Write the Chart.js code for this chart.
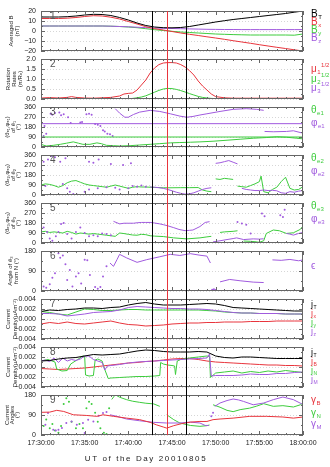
<!DOCTYPE html>
<html>
<head>
<meta charset="utf-8">
<script src="https://cdn.jsdelivr.net/npm/chart.js@4.4.1/dist/chart.umd.min.js"></script>
<style>
  html, body { margin: 0; padding: 0; background: #fff; }
  #wrap { position: relative; width: 330px; height: 467px; }
  #wrap canvas { position: absolute; left: 0; top: 0; }
</style>
</head>
<body>
<div id="wrap"></div>
<script>
// minutes after 17:30:00 UT
const tMin = [0,1,2,3,4,5,6,7,8,9,10,11,12,13,14,15,16,17,18,19,20,21,22,23,24,25,26,27,28,29,30];
const xTickLabels = ['17:30:00', '17:35:00', '17:40:00', '17:45:00', '17:50:00', '17:55:00', '18:00:00'];
const markerTimes = [12.68, 14.39, 16.6];

// panel 1 - averaged B (nT)
const bT = [14,14,14,14.3,15,16,16.7,16.5,15.5,13.5,11,8,5.5,4,3.3,3.2,3.5,4.5,6,7.5,9,10.3,11.5,12.5,13.5,14.5,15.5,16.5,17.5,18.8,20];
const bx = [12.5,12.5,12.5,12.8,13.5,14.5,15.3,15,13.8,12,9.5,7,4.3,2.3,1,-0.5,-2,-3.3,-4.5,-5.8,-7,-8.3,-9.7,-11,-12.3,-13.7,-15,-16.3,-17.5,-18.8,-20];
const by = [5,5,5,5,5,5,5,5,4.8,4.5,4,3.3,2.3,1.3,0.5,-0.3,-1,-1.5,-2,-2.5,-3,-3.3,-3.6,-3.8,-4,-4,-4,-4,-4,-4.2,-3];
const bz = [5,5,5,5,5,5,5,5,4.8,4.5,4.2,3.8,3.3,3,2.7,2.5,2.3,2.1,1.9,1.7,1.6,1.5,1.5,1.4,1.4,1.4,1.4,1.4,1.4,1.4,1.4];

// panel 2 - rotation rates
const tMu = [0,1,2,3,3.5,4,5,6,7,8,9,9.5,10,10.5,11,11.5,12,12.5,13,13.5,14,14.5,15,15.5,16,16.5,17,17.5,18,18.5,19,19.5,20,21,22,23,24,25,26,27,28,29,30];
const mu1 = [0.05,0.07,0.05,0.08,0.12,0.08,0.05,0.04,0.06,0.08,0.15,0.25,0.28,0.3,0.45,0.7,0.95,1.3,1.55,1.72,1.8,1.82,1.82,1.8,1.72,1.6,1.42,1.2,0.9,0.65,0.45,0.25,0.12,0.06,0.04,0.04,0.04,0.04,0.04,0.04,0.04,0.04,0.04];
const mu2 = [0.01,0.01,0.01,0.01,0.01,0.01,0.01,0.01,0.01,0.01,0.01,0.01,0.01,0.03,0.06,0.1,0.16,0.25,0.34,0.43,0.5,0.53,0.52,0.48,0.42,0.35,0.27,0.2,0.13,0.08,0.05,0.03,0.02,0.01,0.01,0.01,0.01,0.01,0.01,0.01,0.01,0.01,0.01];
const tMu3 = [0, 30];
const mu3 = [0.01, 0.01];

// panel 3 - e1 direction
const tRef = [0, 30];
const phi1Ref = [210, 210];
const theta1Ref = [90, 90];
const phi1DotT = [0,0.3,0.4,0.6,1.1,1.3,1.6,2.1,2.3,2.6,3.1,3.4,4.5,4.7,5.2,5.5,5.8,6.2,6.5,6.8,7.1,7.3,7.6,7.9,8.2];
const phi1DotV = [130,100,190,120,300,290,305,310,285,295,268,215,220,225,295,300,290,207,200,190,150,140,120,115,100];
const phi1T = [8.5,9,9.6,10,10.6,11.3,12.5,13.6,14.8,15.9,16.7,17.4,18.2,19,20.5,22,23.5,24.7,25.5,25.55,25.6,26.6,28.1,28.9,29.8,30];
const phi1V = [345,305,268,268,293,314,330,320,299,278,268,275,288,299,320,339,345,339,330,null,140,137,140,146,128,130];
const theta1T = [0,0.6,1.4,2.2,2.9,3.7,4.3,4.8,5.6,6.4,6.9,7.5,8.3,9,10.2,11.3,12.5,13.6,14.8,15.9,17.1,18.2,19.7,21.3,22.8,24.3,25.8,27,28.1,29.3,30];
const theta1V = [24,9,15,24,34,46,34,24,24,37,30,15,12,9,12,18,24,30,37,40,43,46,52,61,70,79,85,92,88,79,73];

// panel 4 - e2 direction
const phi2DotT = [0.3,0.8,1.2,1.6,2.2,2.8,5.5,6,6.6,8,9.4,10.3,0,0.5,2.5,3,3.3,3.7,4.1,5,5.5,6.5,7.5,8.5,9,10,10.5,11,11.5,12];
const phi2DotV = [300,320,350,340,300,330,300,290,320,280,270,285,60,80,100,60,30,10,5,30,50,60,70,65,50,60,80,75,85,75];
const phi2T = [12.5,13,13.5,14,14.5,15,15.5,16,16.5,17,17.5,18,18.5,19,19.5,19.6,20,20.5,21,21.5,22,22.5,22.6,23,23.5,24,24.5,25,25.5,26,26.5,27,27.5,28,28.5,29,29.5,30];
const phi2V = [72,70,66,60,50,38,25,15,8,10,20,35,50,60,65,null,285,290,300,310,295,280,null,60,50,45,40,40,45,40,42,38,20,15,30,25,35,40];
const theta2T = [0,0.5,1,1.5,2,2.5,3,3.5,4,4.5,5,5.5,6,6.5,7,7.5,8,8.5,9,9.5,10,10.5,11,11.5,12,12.5,13,14,15,16,17,18,18.5,19,19.5,19.6,20,20.5,21,21.5,22,22.1,22.5,23,23.5,24,24.5,25,25.2,25.5,26,26.5,27,27.5,28,28.5,29,29.5,30];
const theta2V = [90,100,95,85,70,85,110,125,130,115,100,90,85,80,75,70,80,90,80,70,60,70,75,72,72,70,68,65,65,66,66,67,45,35,30,null,145,140,150,145,140,null,80,75,70,85,100,120,170,30,20,50,70,120,160,60,45,50,75];

// panel 5 - e3 direction
const phi3DotT = [0,0.3,0.7,1,1.3,1.7,2,2.3,2.6,3,3.5,4,4.5,5,5.5,6,6.5,7,7.5,8,22.5,23,23.5,24,25.3,25.6,27.4,27.7,27.9];
const phi3DotV = [120,140,100,40,20,60,100,170,180,80,40,100,140,90,60,70,60,85,80,70,190,175,165,85,265,240,250,235,300];
const phi3T = [8.3,9,9.5,10,10.6,11,11.5,12,12.5,13,13.6,14,14.5,15.2,15.8,16.5,17,17.4,18.2,18.8,19.3,19.5,19.7,20.5,21.3,22,22.4,23.2,24.3,25,25.5,25.6,28.1,28.5,28.9,29.5,30];
const phi3V = [195,172,178,178,178,182,185,185,185,180,172,165,155,138,122,111,114,117,148,185,192,null,10,20,31,40,46,31,37,35,38,null,86,80,71,86,95];
const theta3T = [0,0.5,1,1.5,2,2.5,3,3.5,4,4.5,5,5.5,6,6.5,7,7.5,8,8.5,9,9.5,10,10.5,11,11.5,12,12.5,13,14,15.2,16.7,18.2,19,19.5,19.9,20.5,21,22,22.5,22.8,23.2,24,24.5,25,25.5,25.8,26.6,27.3,28.1,28.9,29.7,30];
const theta3V = [100,105,95,100,95,90,105,95,80,90,85,80,85,80,75,70,65,60,90,85,78,72,70,78,75,65,62,58,46,37,46,55,60,null,95,100,105,110,null,18,15,12,6,20,86,117,110,86,92,123,154];

// panel 6 - angle of e3 from N
const epsDotT = [0,0.3,0.6,1,1.3,1.6,2,2.2,2.5,2.8,3,3.3,3.6,4,4.3,4.6,5,5.3,5.6,6.2,6.5,6.8,7.1,7.5,19.6,19.8,20];
const epsDotV = [10,20,15,30,60,80,170,150,160,120,50,95,20,65,80,34,141,138,72,18,10,18,65,111,6,8,5];
const epsT = [7.9,8.3,8.7,9,9.8,11,12.1,13.6,14.8,15.9,17.1,18.2,19,19.4,19.5,20.5,21.6,22.8,24.3,25.5,25.6,26.5,27.5,28.5,29.5,30];
const epsV = [126,111,141,165,149,129,141,154,165,160,168,161,157,126,null,41,52,46,40,38,null,140,138,142,136,140];

// panel 7 - current density, GSE components (uA/m^2)
const jT7 = [0.0015,0.0018,0.0017,0.0019,0.002,0.0022,0.0022,0.0021,0.0023,0.0024,0.0028,0.0031,0.0033,0.003,0.0028,0.0028,0.0028,0.0029,0.003,0.0031,0.003,0.0027,0.0023,0.0022,0.0021,0.002,0.0019,0.0018,0.0017,0.0016,0.0016];
const jx7 = [-0.001,-0.0007,-0.0009,-0.0006,-0.0009,-0.001,-0.0008,-0.0006,-0.0004,-0.0008,-0.0011,-0.0012,-0.0014,-0.0013,-0.0012,-0.001,-0.0009,-0.0008,-0.0008,-0.0007,-0.0007,-0.0006,-0.0006,-0.0006,-0.0005,-0.0005,-0.0005,-0.0004,-0.0004,-0.0004,-0.0004];
const jy7 = [0.0015,0.0013,0.001,0.0008,0.0014,0.002,0.0019,0.0017,0.0017,0.0018,0.0019,0.0019,0.0018,0.0018,0.0018,0.0018,0.0018,0.0018,0.0018,0.0017,0.0016,0.0014,0.0013,0.0012,0.0012,0.0011,0.0011,0.0011,0.001,0.001,0.001];
const jz7 = [0.0011,0.0011,0.001,0.0006,0.0008,0.001,0.0013,0.0014,0.0015,0.0018,0.0023,0.0025,0.0024,0.0023,0.0022,0.0021,0.0021,0.002,0.002,0.0019,0.0017,0.0015,0.0013,0.0012,0.0012,0.0011,0.0011,0.0011,0.001,0.001,0.001];

// panel 8 - current density, local frame
const jT8 = [0.0012,0.0013,0.0016,0.0018,0.0019,0.0022,0.0025,0.0024,0.0025,0.0026,0.0029,0.0032,0.0034,0.0033,0.0031,0.003,0.003,0.003,0.0031,0.003,0.0022,0.0019,0.0018,0.002,0.002,0.0019,0.0018,0.0017,0.0017,0.0017,0.0017];
const jB8 = [-0.0003,-0.0004,-0.0005,-0.0004,-0.0003,-0.0002,0,0.0002,0.0004,0.0006,0.0008,0.0009,0.0011,0.0012,0.0014,0.0016,0.0017,0.0017,0.0015,0.0012,0.001,0.0009,0.0008,0.0007,0.0006,0.0005,0.0004,0.0004,0.0003,0.0003,0.0002];
const tN8 = [0,0.8,1.6,1.8,2.4,3,3.4,4.2,4.8,5,5.1,5.5,6,6.2,6.5,7,7.3,7.7,8,9,10,11,12,13,13.6,13.7,14,14.5,15,15.3,15.4,15.6,16,17,18,19,19.3,19.4,20,21,22,23,24,25,26,27,28,29,30];
const jN8 = [0.0012,0.0015,0.001,-0.0004,-0.0008,-0.0007,0.0006,0.0015,0.0022,0.0022,-0.0016,-0.0018,-0.0017,0.0014,0.0016,0.0012,-0.0005,-0.0023,-0.0022,-0.0021,-0.002,-0.0019,-0.0019,-0.0018,-0.0017,0.0009,0.0006,0.0004,0.0003,0.0002,-0.0015,0.0012,0.0015,0.0018,0.002,0.0022,0.0021,-0.0021,-0.0012,-0.001,-0.0008,-0.0012,-0.0009,-0.0011,-0.0008,-0.001,-0.0007,-0.0009,-0.0011];
const tM8 = [0,0.5,1,1.5,2,2.5,3,3.5,4,4.5,5,5.5,6,6.5,7,7.3,7.6,8,9,10,11,12,13,14,15,16,17,18,19,19.3,19.5,20,21,22,23,24,25,26,27,28,29,30];
const jM8 = [0.0012,0.0014,0.0011,0.0018,0.0009,0.0018,0.0012,0.0015,0.0013,0.0016,0.0022,0.0022,0.0015,0.0012,0.0009,-0.0006,0.0002,0.0003,0.0005,0.0008,0.001,0.0011,0.0012,0.0013,0.0014,0.0015,0.0016,0.0017,0.0018,0.0026,-0.0018,-0.0017,-0.0017,-0.0017,-0.0016,-0.0014,-0.0015,-0.0015,-0.0013,-0.0013,-0.0011,-0.001];

// panel 9 - current angles
const gBT = [0,1,1.8,2.6,3.7,5.2,6.4,7.1,8.3,9.8,11.3,12.5,13.2,14,14.4,15.2,16.1,17.1,18.2,19,19.7,20.5,22,23.9,25.8,27.7,28.9,30];
const gBV = [102,103,111,106,91,88,84,91,84,76,69,57,46,36,31,42,51,58,61,61,69,72,76,84,84,81,76,81];
const gNDotT = [0,0.3,0.6,1,1.3,1.6,2,2.3,2.6,2.9,3.2,3.5,4,4.4,4.8,5.2,5.5,5.8,6.2,6.5,6.8,7.2,7.5,7.8];
const gNDotV = [60,40,70,30,50,20,10,40,140,165,150,60,30,50,30,120,150,140,100,60,30,10,5,120];
const gNT = [8.1,8.5,9,9.8,10.5,11.3,12,12.9,13.6,13.7,14.4,15.2,15.9,17.1,18.2,19,19.3,19.4,19.7,20.5,21.3,22,22.8,23.9,24.7,25.5,26.6,27.7,28.9,29.7,30];
const gNV = [160,181,170,159,152,147,143,140,129,null,91,69,54,43,39,42,45,null,136,125,111,105,114,121,130,141,129,132,126,136,144];
const gMDotT = [0,0.5,0.8,1.4,1.7,2,2.4,2.9,3.5,4.1,4.8,5,5.4,6,6.6,7.1,7.5,19.5,19.7];
const gMDotV = [54,46,99,24,20,24,31,54,61,46,54,9,69,61,87,99,103,84,100];
const gMT = [7.9,8.7,9.8,11.3,12.9,14.4,15.9,17.1,18.2,18.8,19.2,19.3,19.9,20.5,21.3,22,22.6,23.2,24.3,25.5,26.6,27.7,28.9,29.8,30];
const gMV = [91,84,72,64,57,54,54,58,54,43,43,null,129,144,155,162,158,151,136,144,159,171,159,141,138];

const BLACK = '#000000', RED = '#e8343c', GREEN = '#3dcc3d', PURPLE = '#a05ade';
const FONT = '"Liberation Sans", Arial, sans-serif';
const W = 330, H = 467, LEFT = 41, RIGHT = 303;

function pts(ts, vs) { return ts.map((t, i) => ({ x: t, y: vs[i] })); }
function line(ts, vs, color) {
  return { data: pts(ts, vs), borderColor: color, backgroundColor: color, borderWidth: 1, pointRadius: 0 };
}
function dots(ts, vs, color) {
  return { data: pts(ts, vs), borderColor: color, backgroundColor: color, showLine: false, pointRadius: 1, pointBorderWidth: 0 };
}
const deg = v => (v < 0 ? '\u2212' : '') + Math.abs(v).toFixed(0);
const cur = v => (v < 0 ? '\u2212' : '') + Math.abs(v).toFixed(3);

const panels = [
  { n: '1', top: 11, min: -20, max: 20, step: 10, fmt: deg,
    title: ['Averaged B', '(nT)'], titleX: [11, 17],
    legend: [['B', 'T', '', BLACK, 14, 10], ['B', 'x', '', RED, 22, 10], ['B', 'y', '', GREEN, 30, 10], ['B', 'z', '', PURPLE, 38, 10]],
    sets: [line(tMin, bT, BLACK), line(tMin, bx, RED), line(tMin, bz, PURPLE), line(tMin, by, GREEN)] },
  { n: '2', top: 59, min: 0, max: 2, step: 0.5, fmt: v => v.toFixed(1),
    title: ['Rotation', 'Rates', '(\u03c0/R\u2091)'], titleX: [8, 14, 20],
    legend: [['\u03bc', '1', '1/2', RED, 69, 10], ['\u03bc', '2', '1/2', GREEN, 79, 10], ['\u03bc', '3', '1/2', PURPLE, 88, 10]],
    sets: [line(tMu3, mu3, PURPLE), line(tMu, mu2, GREEN), line(tMu, mu1, RED)] },
  { n: '3', top: 107, min: 0, max: 360, step: 90, fmt: deg,
    title: ['(\u03b8\u2091\u2081,\u03c6\u2091\u2081)', 'of \u00ea\u2081', '(\u00b0)'], titleX: [7, 13, 18],
    legend: [['\u03b8', 'e1', '', GREEN, 110, 10], ['\u03c6', 'e1', '', PURPLE, 123, 10]],
    sets: [line(tRef, phi1Ref, PURPLE), line(tRef, theta1Ref, GREEN), line(phi1T, phi1V, PURPLE), dots(phi1DotT, phi1DotV, PURPLE), line(theta1T, theta1V, GREEN)] },
  { n: '4', top: 155, min: 0, max: 360, step: 90, fmt: deg,
    title: ['(\u03b8\u2091\u2082,\u03c6\u2091\u2082)', 'of \u00ea\u2082', '(\u00b0)'], titleX: [7, 13, 18],
    legend: [['\u03b8', 'e2', '', GREEN, 158, 10], ['\u03c6', 'e2', '', PURPLE, 171, 10]],
    sets: [line(phi2T, phi2V, PURPLE), dots(phi2DotT, phi2DotV, PURPLE), line(theta2T, theta2V, GREEN)] },
  { n: '5', top: 203, min: 0, max: 360, step: 90, fmt: deg,
    title: ['(\u03b8\u2091\u2083,\u03c6\u2091\u2083)', 'of \u00ea\u2083', '(\u00b0)'], titleX: [7, 13, 18],
    legend: [['\u03b8', 'e3', '', GREEN, 206, 10], ['\u03c6', 'e3', '', PURPLE, 219, 10]],
    sets: [line(phi3T, phi3V, PURPLE), dots(phi3DotT, phi3DotV, PURPLE), line(theta3T, theta3V, GREEN)] },
  { n: '6', top: 251, min: 0, max: 180, step: 90, fmt: deg,
    title: ['Angle of \u00ea\u2083', 'from N (\u00b0)'], titleX: [10, 16],
    legend: [['\u03f5', '', '', PURPLE, 266, 10]],
    sets: [line(epsT, epsV, PURPLE), dots(epsDotT, epsDotV, PURPLE)] },
  { n: '7', top: 299, min: -0.004, max: 0.004, step: 0.002, fmt: cur,
    title: ['Current', 'Density(\u03bcAm\u207b\u00b2)'], titleX: [8, 15],
    legend: [['j', 'T', '', BLACK, 305, 9], ['j', 'x', '', RED, 314, 9], ['j', 'y', '', GREEN, 323, 9], ['j', 'z', '', PURPLE, 332, 9]],
    sets: [line(tMin, jT7, BLACK), line(tMin, jz7, PURPLE), line(tMin, jy7, GREEN), line(tMin, jx7, RED)] },
  { n: '8', top: 347, min: -0.004, max: 0.004, step: 0.002, fmt: cur,
    title: ['Current', 'Density(\u03bcAm\u207b\u00b2)'], titleX: [8, 15],
    legend: [['j', 'T', '', BLACK, 353, 9], ['j', 'B', '', RED, 362, 9], ['j', 'N', '', GREEN, 371, 9], ['j', 'M', '', PURPLE, 380, 9]],
    sets: [line(tMin, jT8, BLACK), line(tM8, jM8, PURPLE), line(tN8, jN8, GREEN), line(tMin, jB8, RED)] },
  { n: '9', top: 395, min: 0, max: 180, step: 90, fmt: deg,
    title: ['Current', 'Angles', '(\u00b0)'], titleX: [7, 12, 17],
    legend: [['\u03b3', 'B', '', RED, 400, 10], ['\u03b3', 'N', '', GREEN, 413, 10], ['\u03b3', 'M', '', PURPLE, 424, 10]],
    sets: [line(gBT, gBV, RED), line(gMT, gMV, PURPLE), dots(gMDotT, gMDotV, PURPLE), line(gNT, gNV, GREEN), dots(gNDotT, gNDotV, GREEN)] }
];

function drawLegend(ctx, item) {
  const [main, sub, sup, color, y, size] = item;
  const x = 311;
  ctx.fillStyle = color;
  ctx.textAlign = 'left';
  ctx.textBaseline = 'middle';
  ctx.font = size + 'px ' + FONT;
  ctx.fillText(main, x, y);
  let w = ctx.measureText(main).width + 0.5;
  ctx.font = Math.round(size * 0.6) + 'px ' + FONT;
  if (sub) {
    ctx.fillText(sub, x + w, y + size * 0.3);
    w += ctx.measureText(sub).width + 0.5;
  }
  if (sup) ctx.fillText(sup, x + w, y - size * 0.4);
}

function panelPlugin(p, last) {
  return {
    id: 'panel' + p.n,
    afterDatasetsDraw(chart) {
      const { ctx, chartArea: a, scales: { x, y } } = chart;
      ctx.save();
      // box and inward ticks
      ctx.strokeStyle = '#666';
      ctx.lineWidth = 1;
      ctx.strokeRect(a.left + 0.5, a.top + 0.5, a.width - 1, a.height - 1);
      ctx.beginPath();
      for (let m = 0; m <= 30; m++) {
        const px = Math.round(x.getPixelForValue(m)) + 0.5;
        const len = m % 5 === 0 ? 4 : 2;
        ctx.moveTo(px, a.top); ctx.lineTo(px, a.top + len);
        ctx.moveTo(px, a.bottom); ctx.lineTo(px, a.bottom - len);
      }
      y.ticks.forEach((tk, i) => {
        const py = Math.round(y.getPixelForValue(tk.value)) + 0.5;
        ctx.moveTo(a.left, py); ctx.lineTo(a.left + 4, py);
        ctx.moveTo(a.right, py); ctx.lineTo(a.right - 4, py);
        if (i > 0) {
          const pm = Math.round(y.getPixelForValue(tk.value - p.step / 2)) + 0.5;
          ctx.moveTo(a.left, pm); ctx.lineTo(a.left + 2, pm);
          ctx.moveTo(a.right, pm); ctx.lineTo(a.right - 2, pm);
        }
      });
      ctx.stroke();

      // panel number
      ctx.fillStyle = '#555';
      ctx.font = '10px ' + FONT;
      ctx.textAlign = 'left';
      ctx.textBaseline = 'middle';
      ctx.fillText(p.n, 50, a.top + 5);

      // legend on the right
      p.legend.forEach(item => drawLegend(ctx, item));

      // rotated y title
      ctx.fillStyle = '#222';
      ctx.font = '6px ' + FONT;
      ctx.textAlign = 'center';
      const cy = (a.top + a.bottom) / 2;
      p.title.forEach((txt, i) => {
        ctx.save();
        ctx.translate(p.titleX[i], cy);
        ctx.rotate(-Math.PI / 2);
        ctx.fillText(txt, 0, 0);
        ctx.restore();
      });

      if (last) {
        // event markers through all panels
        markerTimes.forEach((t, i) => {
          const px = Math.round(x.getPixelForValue(t)) + 0.5;
          ctx.strokeStyle = i === 1 ? '#e8343c' : '#000';
          ctx.beginPath();
          ctx.moveTo(px, panels[0].top);
          ctx.lineTo(px, a.bottom);
          ctx.stroke();
        });
        ctx.fillStyle = '#222';
        ctx.font = '8px ' + FONT;
        ctx.letterSpacing = '1.6px';
        ctx.textAlign = 'center';
        ctx.textBaseline = 'middle';
        ctx.fillText('UT of the Day 20010805', 146, 459);
      }
      ctx.restore();
    }
  };
}

const wrap = document.getElementById('wrap');
panels.forEach((p, idx) => {
  const last = idx === panels.length - 1;
  const canvas = document.createElement('canvas');
  canvas.width = W;
  canvas.height = H;
  wrap.appendChild(canvas);
  new Chart(canvas, {
    type: 'line',
    data: { datasets: p.sets },
    options: {
      responsive: false,
      animation: false,
      events: [],
      layout: { padding: { left: 0, right: W - RIGHT, top: p.top, bottom: last ? H - (p.top + 40) - 14 : H - (p.top + 40) } },
      plugins: { legend: { display: false }, tooltip: { enabled: false } },
      scales: {
        x: {
          type: 'linear', min: 0, max: 30, display: last,
          ticks: { stepSize: 5, autoSkip: false, maxRotation: 0, padding: 4, color: '#222',
                   font: { family: FONT, size: 7 }, callback: v => xTickLabels[v / 5] },
          grid: { display: false, drawTicks: false },
          border: { display: false },
          afterFit: s => { s.height = last ? 14 : 0; }
        },
        y: {
          min: p.min, max: p.max,
          ticks: { stepSize: p.step, autoSkip: false, padding: 5, color: '#222', font: { family: FONT, size: 7 }, callback: p.fmt },
          grid: { color: '#d6d6d6', drawTicks: false },
          border: { display: false, dash: [1, 2] },
          afterFit: s => { s.width = LEFT; }
        }
      }
    },
    plugins: [panelPlugin(p, last)]
  });
});
</script>
</body>
</html>
